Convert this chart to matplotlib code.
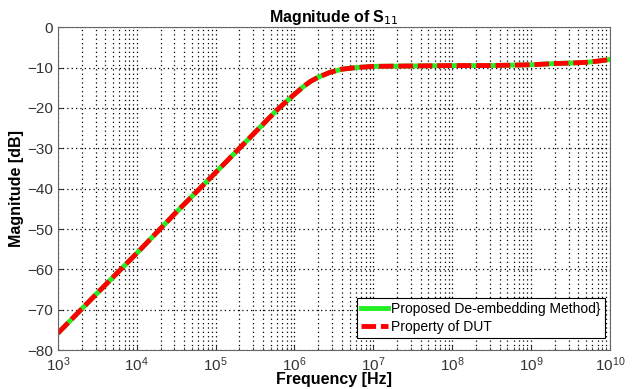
import matplotlib
matplotlib.use('Agg')
import matplotlib.pyplot as plt
import matplotlib.ticker as mticker
import numpy as np

plt.rcParams['font.family'] = ['Liberation Sans', 'DejaVu Sans']

freq = [1e3, 3e3, 1e4, 3e4, 1e5, 3e5, 6e5, 1e6, 1.3e6, 1.6e6, 2e6, 2.8e6, 4e6, 6e6,
        1e7, 3e7, 1e8, 3e8, 1e9, 2e9, 3e9, 5e9, 7e9, 1e10]
proposed = [-75.8, -66.3, -56.0, -46.3, -36.0, -26.5, -20.5, -16.6, -14.7, -13.4, -12.4,
            -11.2, -10.4, -10.0, -9.7, -9.6, -9.5, -9.5, -9.3, -9.0, -8.9, -8.7, -8.4, -8.0]
dut = list(proposed)
y_ticks = [-80, -70, -60, -50, -40, -30, -20, -10, 0]

fig = plt.figure(figsize=(6.44, 3.89), dpi=100)
ax = fig.add_axes([0.09, 0.1, 0.857, 0.83])

ax.semilogx(freq, proposed, color='#22ee22', lw=3.5, label='Proposed De-embedding Method}')
ax.semilogx(freq, dut, color='#ff0000', lw=3.5, ls=(0, (3, 1.0)), label='Property of DUT')

ax.set_xlim(1e3, 1e10)
ax.set_ylim(-80, 0)
ax.set_yticks(y_ticks)
ax.xaxis.set_minor_formatter(mticker.NullFormatter())
ax.grid(True, which='major', ls=(0, (1, 2.5)), color='black', lw=0.9)
ax.grid(True, which='minor', axis='x', ls=(0, (1, 2.5)), color='black', lw=0.9)
ax.tick_params(labelsize=11, colors='#333333', direction='in', which='both')
for s in ax.spines.values():
    s.set_color('#666666')

ax.set_title('Magnitude of S$_{11}$', fontsize=11.5, fontweight='bold', pad=4)
ax.set_xlabel('Frequency [Hz]', fontsize=11.5, fontweight='bold', labelpad=-1)
ax.set_ylabel('Magnitude [dB]', fontsize=11.5, fontweight='bold', labelpad=2)

leg = ax.legend(loc='lower right', bbox_to_anchor=(0.991, 0.037), fontsize=10,
                fancybox=False, framealpha=1, edgecolor='black', handlelength=2.0,
                handletextpad=0.2, borderaxespad=0, borderpad=0.3, labelspacing=0.3)
leg.get_frame().set_linewidth(0.8)

fig.savefig('out.png', dpi=100)
